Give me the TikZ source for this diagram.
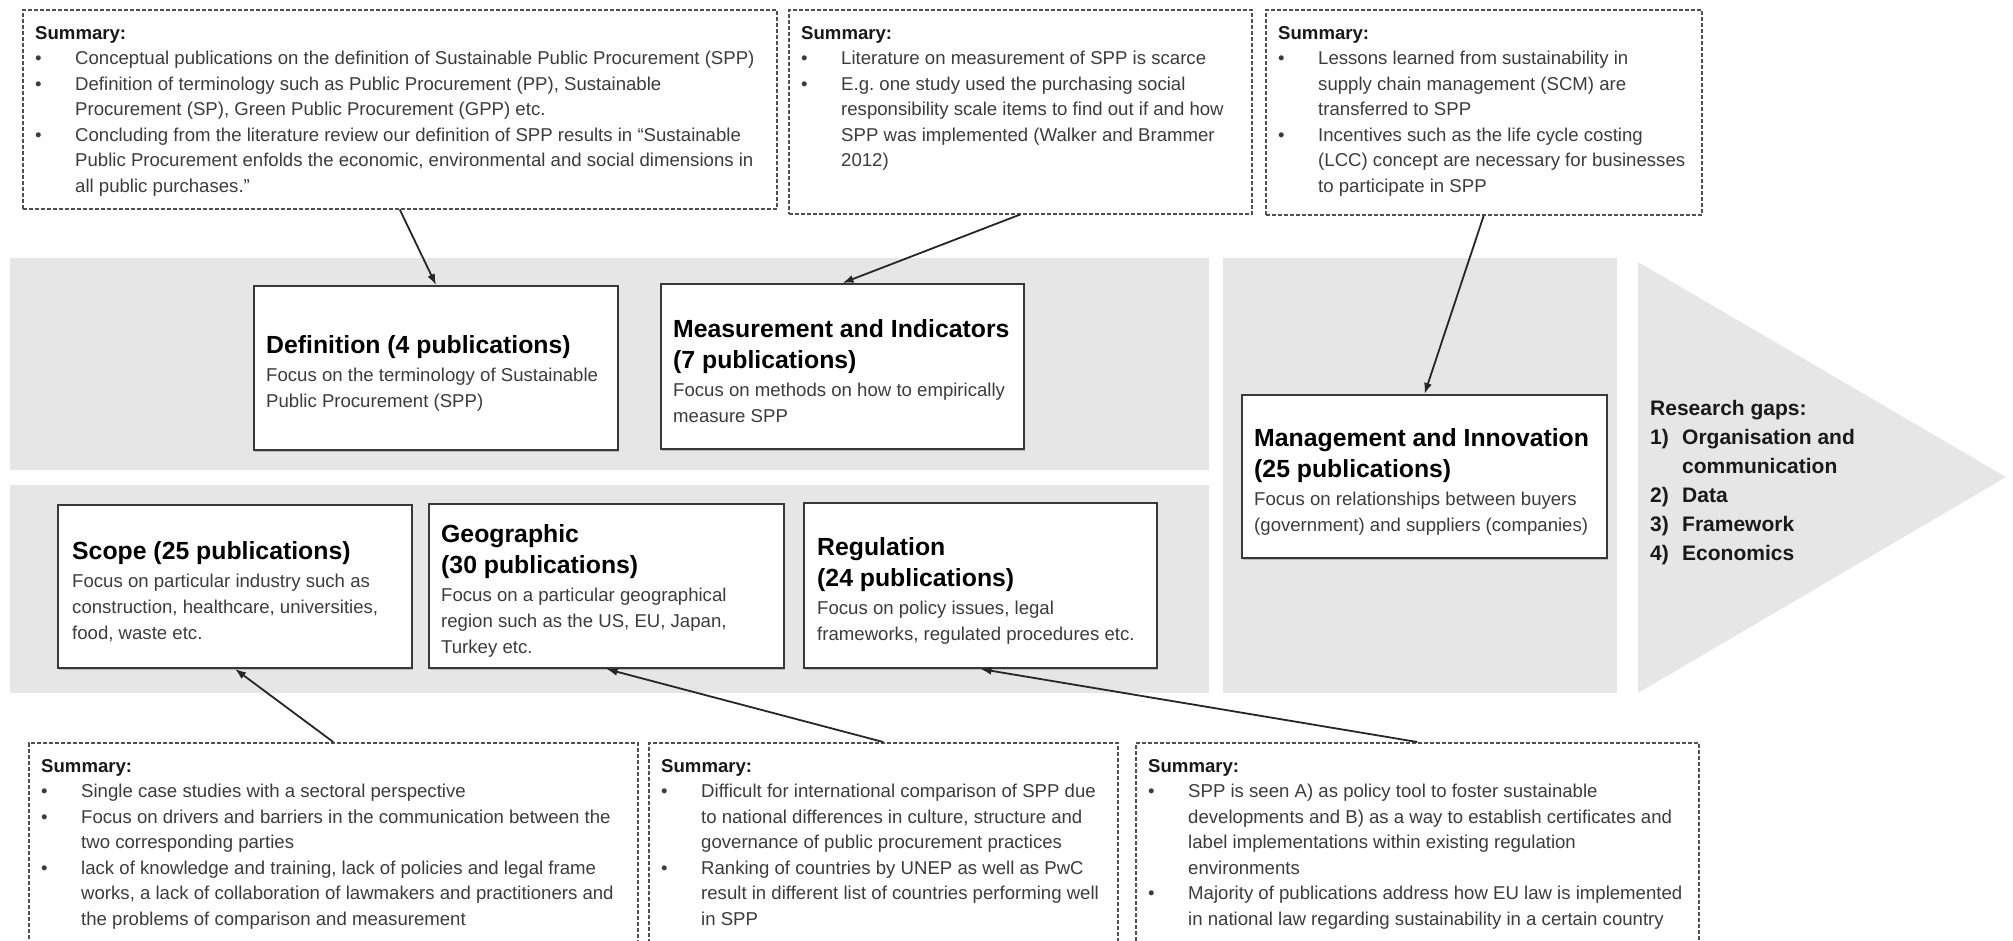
\documentclass[tikz,border=0pt]{standalone}
\usepackage{fontspec}
\setmainfont{Liberation Sans}
\usetikzlibrary{arrows.meta,calc,shadows}
\frenchspacing

\definecolor{band}{HTML}{E7E6E6}
\definecolor{ink}{HTML}{262626}
\definecolor{boxline}{HTML}{383838}
\definecolor{dashline}{HTML}{505050}
\definecolor{bodytext}{HTML}{3C3C3C}

% type sizes (1pt = 1 pixel of the final sheet); word spaces come from the font
\newcommand{\natspace}{\spaceskip=0pt\xspaceskip=0pt\relax}
\newcommand{\ttlfont}{\fontsize{24.8}{31}\selectfont\bfseries\color{black}\natspace}
\newcommand{\bdyfont}{\fontsize{18.6}{26}\selectfont\natspace}
\newcommand{\sumfont}{\fontsize{18.6}{25.5}\selectfont\natspace}
\newcommand{\gapfont}{\fontsize{21}{29}\selectfont\bfseries\natspace}
\newcommand{\blt}{\makebox[40pt][l]{\textbullet}}
\newcommand{\hng}{\hspace*{40pt}}
\newcommand{\gnum}[1]{\makebox[32pt][l]{#1}}

\tikzset{
  solidbox/.style={rectangle, draw=boxline, line width=2pt, fill=white,
    inner sep=0pt, anchor=north west,
    drop shadow={shadow xshift=0.8pt, shadow yshift=-1.8pt, opacity=0.45}},
  sumbox/.style={rectangle, draw=dashline, line width=1.5pt,
    dash pattern=on 4pt off 2pt, fill=white, inner sep=0pt, anchor=north west},
  boxtext/.style={anchor=west, inner sep=0pt, text width=400pt,
    align=flush left, text=bodytext},
  sumtext/.style={anchor=north west, inner sep=0pt, text width=900pt,
    align=flush left, font=\sumfont, text=bodytext},
  gaptext/.style={anchor=north west, inner sep=0pt, text width=330pt,
    align=flush left, font=\gapfont, text=black!90},
  connector/.style={draw=ink, line width=1.8pt,
    -{Latex[length=11pt,width=8pt]}},
}

\begin{document}
\begin{tikzpicture}[x=1pt,y=-1pt]
\useasboundingbox (0,0) rectangle (2013,940);
\clip (0,0) rectangle (2013,940);

% grey backdrop panels and the closing arrow
\fill[band] (10,258) rectangle (1209,470);
\fill[band] (10,485) rectangle (1209,693);
\fill[band] (1223,258) rectangle (1617,693);
\fill[band] (1638,262) -- (2006,477) -- (1638,693) -- cycle;

% category boxes
\node[solidbox, minimum width=364pt, minimum height=164pt] (def)   at (253,285) {};
\node[solidbox, minimum width=363pt, minimum height=165pt] (meas)  at (660,283) {};
\node[solidbox, minimum width=365pt, minimum height=163pt] (mgmt)  at (1241,394) {};
\node[solidbox, minimum width=354pt, minimum height=163pt] (scope) at (57,504) {};
\node[solidbox, minimum width=355pt, minimum height=164pt] (geo)   at (428,503) {};
\node[solidbox, minimum width=353pt, minimum height=165pt] (reg)   at (803,502) {};

\node[boxtext] (defT) at ($(def.west)+(13,5)$)
  {{\ttlfont Definition (4 publications)\par}\vspace{2pt}
   {\bdyfont Focus on the terminology of Sustainable\\Public Procurement (SPP)\par}};
\node[boxtext] (measT) at ($(meas.west)+(13,5)$)
  {{\ttlfont Measurement and Indicators\\(7 publications)\par}\vspace{2pt}
   {\bdyfont Focus on methods on how to empirically\\measure SPP\par}};
\node[boxtext] (mgmtT) at ($(mgmt.west)+(13,5)$)
  {{\ttlfont Management and Innovation\\(25 publications)\par}\vspace{2pt}
   {\bdyfont Focus on relationships between buyers\\(government) and suppliers (companies)\par}};
\node[boxtext] (scopeT) at ($(scope.west)+(15,5)$)
  {{\ttlfont Scope (25 publications)\par}\vspace{2pt}
   {\bdyfont Focus on particular industry such as\\construction, healthcare, universities,\\food, waste etc.\par}};
\node[boxtext] (geoT) at ($(geo.west)+(13,5)$)
  {{\ttlfont Geographic\\(30 publications)\par}\vspace{2pt}
   {\bdyfont Focus on a particular geographical\\region such as the US, EU, Japan,\\Turkey etc.\par}};
\node[boxtext] (regT) at ($(reg.west)+(14,5)$)
  {{\ttlfont Regulation\\(24 publications)\par}\vspace{2pt}
   {\bdyfont Focus on policy issues, legal\\frameworks, regulated procedures etc.\par}};

% summary boxes
\node[sumbox, minimum width=754pt, minimum height=199pt] (t1) at (22,9) {};
\node[sumbox, minimum width=463pt, minimum height=204pt] (t2) at (788,9) {};
\node[sumbox, minimum width=436pt, minimum height=205pt] (t3) at (1265,9) {};
\node[sumbox, minimum width=609pt, minimum height=240pt] (b1) at (28,742) {};
\node[sumbox, minimum width=469pt, minimum height=240pt] (b2) at (648,742) {};
\node[sumbox, minimum width=563pt, minimum height=240pt] (b3) at (1135,742) {};

\node[sumtext] (t1T) at ($(t1.north west)+(13,12)$)
  {\strut\textbf{\color{black!90}Summary:}\\
   \blt Conceptual publications on the definition of Sustainable Public Procurement (SPP)\\
   \blt Definition of terminology such as Public Procurement (PP), Sustainable\\
   \hng Procurement (SP), Green Public Procurement (GPP) etc.\\
   \blt Concluding from the literature review our definition of SPP results in “Sustainable\\
   \hng Public Procurement enfolds the economic, environmental and social dimensions in\\
   \hng all public purchases.”};
\node[sumtext] (t2T) at ($(t2.north west)+(13,12)$)
  {\strut\textbf{\color{black!90}Summary:}\\
   \blt Literature on measurement of SPP is scarce\\
   \blt E.g. one study used the purchasing social\\
   \hng responsibility scale items to find out if and how\\
   \hng SPP was implemented (Walker and Brammer\\
   \hng 2012)};
\node[sumtext] (t3T) at ($(t3.north west)+(13,12)$)
  {\strut\textbf{\color{black!90}Summary:}\\
   \blt Lessons learned from sustainability in\\
   \hng supply chain management (SCM) are\\
   \hng transferred to SPP\\
   \blt Incentives such as the life cycle costing\\
   \hng (LCC) concept are necessary for businesses\\
   \hng to participate in SPP};
\node[sumtext] (b1T) at ($(b1.north west)+(13,12)$)
  {\strut\textbf{\color{black!90}Summary:}\\
   \blt Single case studies with a sectoral perspective\\
   \blt Focus on drivers and barriers in the communication between the\\
   \hng two corresponding parties\\
   \blt lack of knowledge and training, lack of policies and legal frame\\
   \hng works, a lack of collaboration of lawmakers and practitioners and\\
   \hng the problems of comparison and measurement};
\node[sumtext] (b2T) at ($(b2.north west)+(13,12)$)
  {\strut\textbf{\color{black!90}Summary:}\\
   \blt Difficult for international comparison of SPP due\\
   \hng to national differences in culture, structure and\\
   \hng governance of public procurement practices\\
   \blt Ranking of countries by UNEP as well as PwC\\
   \hng result in different list of countries performing well\\
   \hng in SPP};
\node[sumtext] (b3T) at ($(b3.north west)+(13,12)$)
  {\strut\textbf{\color{black!90}Summary:}\\
   \blt SPP is seen A) as policy tool to foster sustainable\\
   \hng developments and B) as a way to establish certificates and\\
   \hng label implementations within existing regulation\\
   \hng environments\\
   \blt Majority of publications address how EU law is implemented\\
   \hng in national law regarding sustainability in a certain country};

% research gaps inside the arrow
\node[gaptext] (gaps) at (1650,395)
  {\strut Research gaps:\\
   \gnum{1)}Organisation and\\
   \hspace*{32pt}communication\\
   \gnum{2)}Data\\
   \gnum{3)}Framework\\
   \gnum{4)}Economics};

% connectors from the summaries to their categories
\draw[connector] (t1.south) -- (def.north);
\draw[connector] (t2.south) -- (meas.north);
\draw[connector] (t3.south) -- (mgmt.north);
\draw[connector] (b1.north) -- (scope.south);
\draw[connector] (b2.north) -- (geo.south);
\draw[connector] (b3.north) -- (reg.south);
\end{tikzpicture}
\end{document}
